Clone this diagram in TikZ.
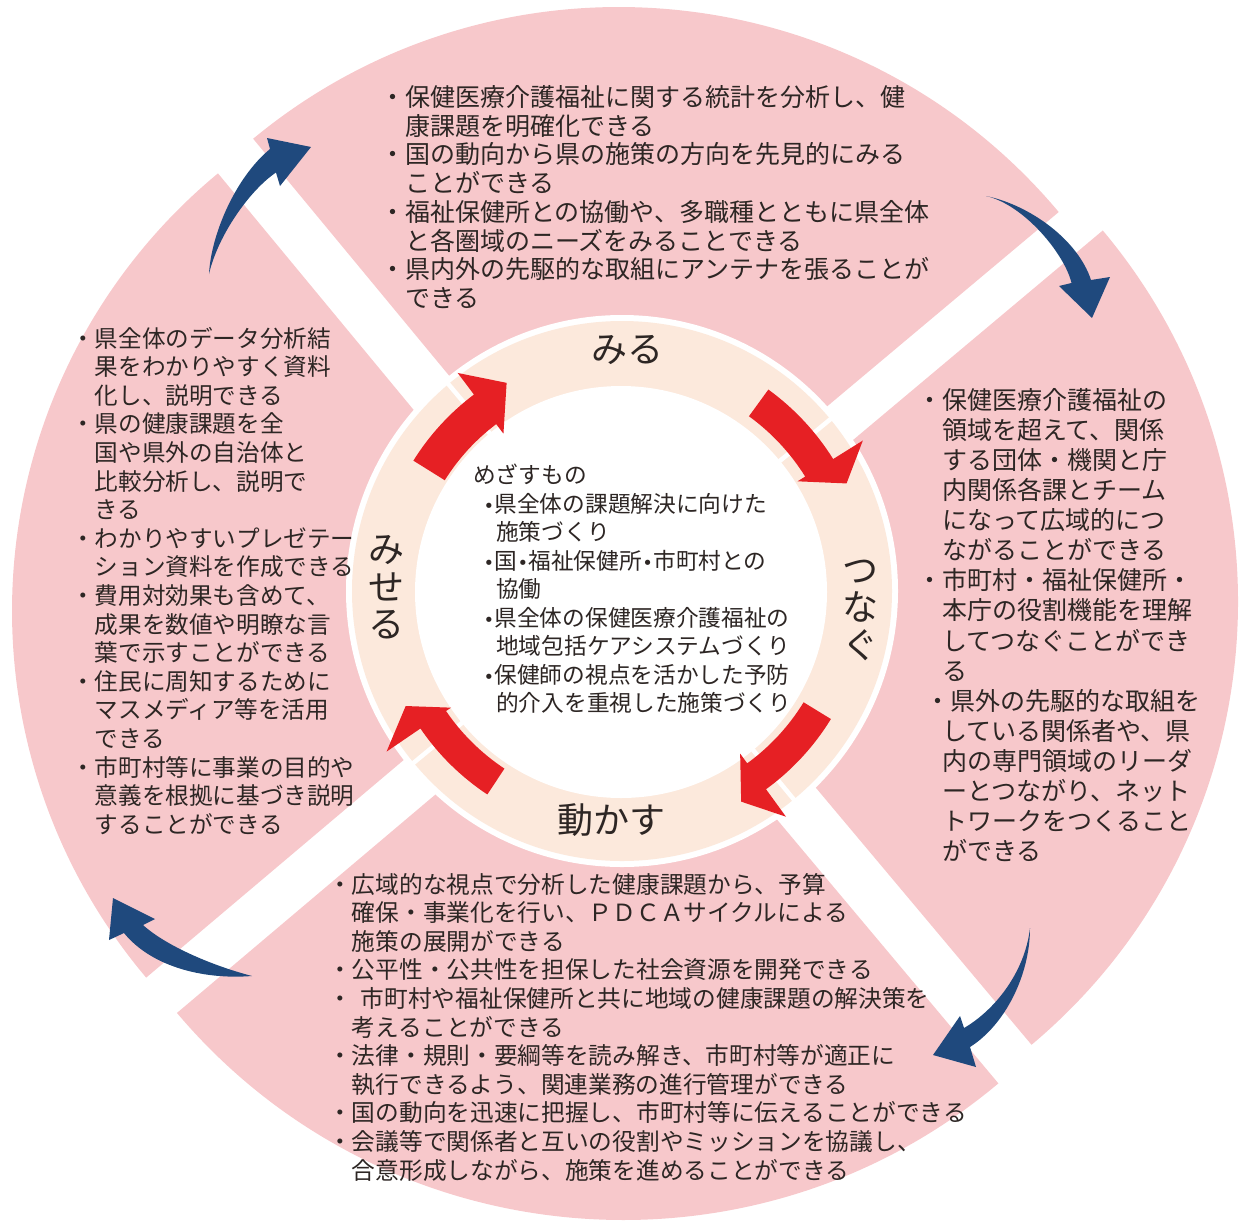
\documentclass[tikz,border=0pt]{standalone}
\usepackage{fontspec}
\newfontfamily\jp{Noto Sans CJK JP}
\newfontfamily\dv{DejaVu Sans}
\definecolor{pinkbg}{RGB}{247,200,203}
\definecolor{peachring}{RGB}{252,233,220}
\definecolor{redarr}{RGB}{230,32,36}
\definecolor{bluearr}{RGB}{31,73,125}
\definecolor{txt}{RGB}{45,38,36}
\newcommand\txtlines[3]{{\jp\fontsize{#1}{#2}\selectfont\vtop{\halign{##\hfil\cr#3\crcr}}}}
\newcommand\ind{\hskip1em}
\newcommand\bul{\makebox[11.3pt]{\dv\fontsize{18}{18}\selectfont •}}
\newcommand\redarrow[8]{%
  \fill[redarr] (#1:#4) arc[start angle=#1, end angle=#2, radius=#4] -- (#2:#6) -- (#3:#8) -- (#2:#7) -- (#2:#5) arc[start angle=#2, end angle=#1, radius=#5] -- cycle;}
\begin{document}
\begin{tikzpicture}[x=1pt,y=-1pt,
  txtnode/.style={anchor=base west, inner sep=0pt, text=txt},
  lbl/.style={inner sep=0pt, text=txt, font=\jp\fontsize{36}{37.5}\selectfont, align=center}]
\useasboundingbox (0,0) rectangle (1239,1221);
% outer sectors
\fill[pinkbg] (619,581) -- ++(-129.6:574) arc[start angle=-129.6, end angle=-40, radius=574] -- cycle;
\fill[pinkbg] (660,602) -- ++(-40:578) arc[start angle=-40, end angle=50, radius=578] -- cycle;
\fill[pinkbg] (623,636) -- ++(50:584) arc[start angle=50, end angle=139.8, radius=584] -- cycle;
\fill[pinkbg] (580,611) -- ++(139.8:568) arc[start angle=139.8, end angle=230.4, radius=568] -- cycle;
% inner ring
\fill[white] (622,591) circle[radius=276];
\fill[peachring] (622,591) circle[radius=270];
\fill[white] (621,592) circle[radius=206];
\begin{scope}[shift={(622,591)}]
  \foreach \a in {-39.5,-130,50.5,140.5} \draw[white, line width=4.5pt] (\a:198) -- (\a:272);
  \redarrow{-148}{-127}{-119}{209}{246}{197}{273}{238}
  \redarrow{-54}{-32}{-25.6}{216}{249}{207}{284}{249}
  \redarrow{31.5}{54}{60.5}{213}{245}{201}{279}{242}
  \redarrow{123.5}{145.7}{152}{213}{244}{207}{285}{245}
\end{scope}
% blue arrows
\fill[bluearr] (209,274) .. controls (211,235) and (235,178) .. (270,149) -- (267,138) -- (311,147) -- (280,186) -- (276,172.5) .. controls (250,190) and (218,235) .. (209,274) -- cycle;
\fill[bluearr] (986,196) .. controls (1030,205) and (1078,240) .. (1091,280) -- (1110,277) -- (1092,318) -- (1059,286) -- (1071.5,283) .. controls (1065,255) and (1025,205) .. (986,196) -- cycle;
\fill[bluearr] (1030,928) .. controls (1030,975) and (1005,1025) .. (970,1047) -- (976,1067) -- (933,1055) -- (960,1016) -- (964,1028) .. controls (995,1010) and (1025,972) .. (1030,928) -- cycle;
\fill[bluearr] (252,976) .. controls (200,980) and (150,965) .. (124,933) -- (109,940) -- (113,898) -- (155,919) -- (143,925) .. controls (165,945) and (210,965) .. (252,976) -- cycle;
% labels
\node[lbl] (miru) at (627.5,350) {みる};
\node[lbl] (tsunagu) at (860,610) {つ\\な\\ぐ};
\node[lbl] (ugokasu) at (611,820) {動かす};
\node[lbl] (miseru) at (386,587.5) {み\\せ\\る};
% text blocks
\node[txtnode] (topblk) at (380,106.5) {\txtlines{25}{28.7}{%
・保健医療介護福祉に関する統計を分析し、健\cr
\ind 康課題を明確化できる\cr
・国の動向から県の施策の方向を先見的にみる\cr
\ind ことができる\cr
・福祉保健所との協働や、多職種とともに県全体\cr
\ind と各圏域のニーズをみることできる\cr
・県内外の先駆的な取組にアンテナを張ることが\cr
\ind できる}};
\node[txtnode] (rightblk) at (917,409.5) {\txtlines{25}{30.07}{%
・保健医療介護福祉の\cr
\ind 領域を超えて、関係\cr
\ind する団体・機関と庁\cr
\ind 内関係各課とチーム\cr
\ind になって広域的につ\cr
\ind ながることができる\cr
・市町村・福祉保健所・\cr
\ind 本庁の役割機能を理解\cr
\ind してつなぐことができ\cr
\ind る\cr
\hskip8pt・県外の先駆的な取組を\cr
\ind している関係者や、県\cr
\ind 内の専門領域のリーダ\cr
\ind ーとつながり、ネット\cr
\ind トワークをつくること\cr
\ind ができる}};
\node[txtnode] (leftblk) at (71,347) {\txtlines{23.6}{28.6}{%
・県全体のデータ分析結\cr
\ind 果をわかりやすく資料\cr
\ind 化し、説明できる\cr
・県の健康課題を全\cr
\ind 国や県外の自治体と\cr
\ind 比較分析し、説明で\cr
\ind きる\cr
・わかりやすいプレゼテー\cr
\ind ション資料を作成できる\cr
・費用対効果も含めて、\cr
\ind 成果を数値や明瞭な言\cr
\ind 葉で示すことができる\cr
・住民に周知するために\cr
\ind マスメディア等を活用\cr
\ind できる\cr
・市町村等に事業の目的や\cr
\ind 意義を根拠に基づき説明\cr
\ind することができる}};
\node[txtnode] (botblk) at (328,893) {\txtlines{23.7}{28.6}{%
・広域的な視点で分析した健康課題から、予算\cr
\ind 確保・事業化を行い、ＰＤＣＡサイクルによる\cr
\ind 施策の展開ができる\cr
・公平性・公共性を担保した社会資源を開発できる\cr
・\hskip9pt 市町村や福祉保健所と共に地域の健康課題の解決策を\cr
\ind 考えることができる\cr
・法律・規則・要綱等を読み解き、市町村等が適正に\cr
\ind 執行できるよう、関連業務の進行管理ができる\cr
・国の動向を迅速に把握し、市町村等に伝えることができる\cr
・会議等で関係者と互いの役割やミッションを協議し、\cr
\ind 合意形成しながら、施策を進めることができる}};
\node[txtnode] (centerblk) at (473,483.6) {\txtlines{22.7}{28.5}{%
めざすもの\cr
\hskip10pt\bul 県全体の課題解決に向けた\cr
\hskip23pt 施策づくり\cr
\hskip10pt\bul 国\bul 福祉保健所\bul 市町村との\cr
\hskip23pt 協働\cr
\hskip10pt\bul 県全体の保健医療介護福祉の\cr
\hskip23pt 地域包括ケアシステムづくり\cr
\hskip10pt\bul 保健師の視点を活かした予防\cr
\hskip23pt 的介入を重視した施策づくり}};
\end{tikzpicture}
\end{document}
